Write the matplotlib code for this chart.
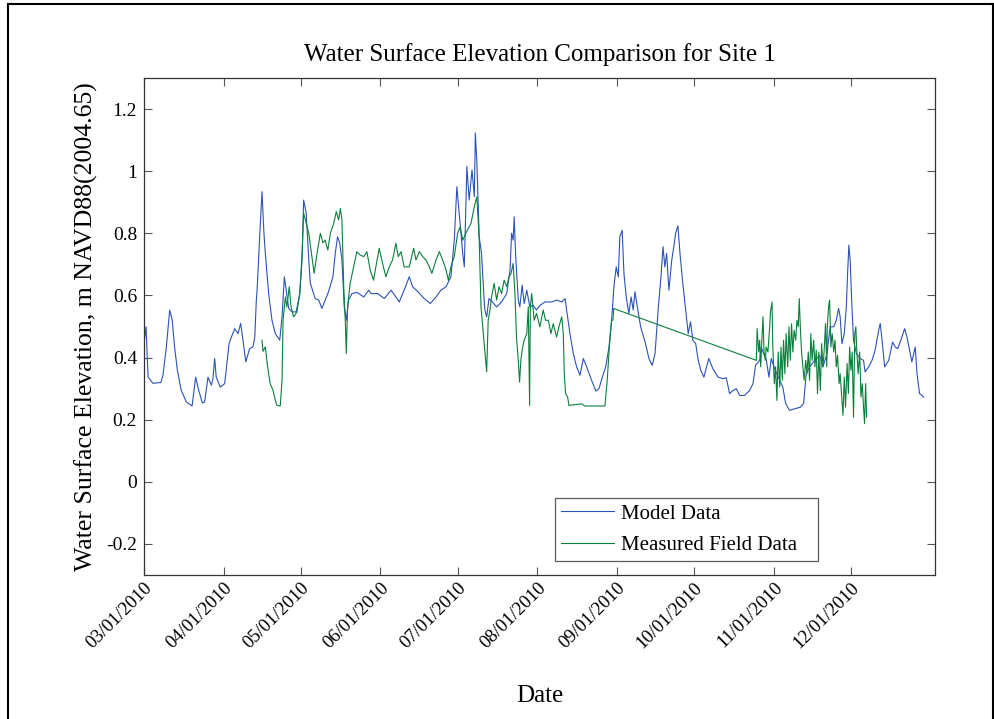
import numpy as np
import matplotlib
matplotlib.use("Agg")
import matplotlib.pyplot as plt
import matplotlib.dates as mdates
from datetime import datetime
from matplotlib.lines import Line2D

# Site 1 water surface elevation, m NAVD88(2004.65); time in days after 03/01/2010
model_days = [0, 0.8, 1.6, 3.5, 6.6, 7.4, 8.7, 10.0, 11.0, 11.9, 13.0, 14.5, 16.5, 18.7,
              20.1, 21.3, 22.7, 23.6, 24.9, 26.2, 26.8, 27.5, 28.1, 29.7, 31.4, 33.1, 34.0,
              35.3, 36.6, 37.6, 38.5, 39.6, 41.1, 42.4, 43.1, 43.7, 44.0, 45.0, 45.9, 46.6,
              47.2, 48.5, 49.8, 51.1, 52.8, 53.7, 54.6, 55.3, 56.3, 57.6, 59.2, 60.6, 61.5,
              62.1, 63.1, 64.1, 64.7, 66.6, 68.0, 69.2, 70.5, 71.8, 73.5, 74.4, 75.3, 76.1,
              77.0, 77.9, 78.7, 79.6, 80.9, 82.8, 85.5, 87.4, 88.3, 90.9, 93.5, 96.1, 98.0,
              99.3, 101.2, 103.2, 104.5, 106.5, 109.0, 111.4, 113.6, 115.5, 117.5, 119.4,
              120.7, 121.7, 122.6, 124.0, 124.6, 125.6, 126.5, 127.6, 128.5, 128.9, 129.5,
              130.4, 131.3, 132.4, 132.6, 133.3, 134.2, 135.5, 137.2, 139.1, 141.1, 142.4,
              143.0, 143.6, 144.0, 144.6, 145.6, 146.2, 147.1, 147.9, 148.9, 150.1, 151.4,
              152.7, 154.0, 156.0, 158.6, 160.5, 162.5, 163.8, 164.4, 165.7, 167.0, 168.3,
              169.6, 170.9, 172.2, 174.1, 175.8, 177.0, 178.3, 179.6, 180.9, 181.9, 182.8,
              183.7, 184.5, 185.1, 186.0, 186.7, 187.6, 188.6, 189.5, 190.3, 191.0, 191.9,
              193.2, 195.1, 196.4, 197.7, 198.8, 200.0, 201.1, 201.9, 202.6, 203.3, 204.2,
              205.3, 206.1, 206.8, 207.7, 208.5, 209.6, 210.7, 211.7, 212.6, 213.5, 214.6,
              215.6, 216.6, 217.8, 219.7, 221.3, 223.3, 225.2, 226.5, 227.8, 229.1, 230.4,
              231.7, 233.6, 235.6, 236.9, 237.9, 239.5, 240.1, 241.0, 242.0, 243.1, 244.0,
              245.3, 247.3, 248.5, 249.6, 251.1, 253.1, 255.3, 256.6, 257.6, 258.9, 260.9,
              262.8, 264.1, 265.7, 266.9, 268.3, 269.3, 270.2, 270.8, 271.5, 272.4, 273.2,
              273.7, 274.2, 274.7, 275.4, 276.0, 277.1, 278.6, 279.9, 280.5, 281.9, 283.2,
              284.4, 285.8, 286.4, 287.1, 288.1, 289.7, 291.2, 292.2, 293.2, 294.4, 295.9,
              296.8, 297.8, 298.7, 300.0, 300.7, 301.7, 303.3]
model_elev = [0.446, 0.499, 0.337, 0.317, 0.32, 0.343, 0.434, 0.553, 0.52, 0.434, 0.359,
              0.294, 0.257, 0.244, 0.337, 0.294, 0.254, 0.257, 0.337, 0.311, 0.33, 0.397,
              0.337, 0.305, 0.316, 0.445, 0.466, 0.493, 0.477, 0.51, 0.456, 0.386, 0.429,
              0.434, 0.466, 0.585, 0.617, 0.789, 0.934, 0.81, 0.735, 0.606, 0.52, 0.477,
              0.456, 0.531, 0.66, 0.617, 0.558, 0.547, 0.547, 0.606, 0.714, 0.907, 0.865,
              0.714, 0.639, 0.59, 0.585, 0.558, 0.585, 0.612, 0.66, 0.735, 0.789, 0.77,
              0.714, 0.563, 0.52, 0.585, 0.606, 0.61, 0.595, 0.617, 0.606, 0.606, 0.59,
              0.617, 0.595, 0.579, 0.617, 0.66, 0.628, 0.612, 0.59, 0.574, 0.595, 0.617,
              0.628, 0.66, 0.778, 0.95, 0.865, 0.735, 0.692, 1.015, 0.907, 1.004, 0.918,
              1.123, 1.026, 0.789, 0.735, 0.574, 0.553, 0.531, 0.59, 0.579, 0.563, 0.579,
              0.606, 0.682, 0.8, 0.778, 0.853, 0.725, 0.585, 0.563, 0.633, 0.574, 0.617,
              0.563, 0.568, 0.553, 0.568, 0.579, 0.579, 0.585, 0.579, 0.59, 0.553, 0.477,
              0.413, 0.37, 0.343, 0.397, 0.37, 0.327, 0.292, 0.3, 0.337, 0.37, 0.434, 0.52,
              0.628, 0.692, 0.66, 0.789, 0.81, 0.671, 0.595, 0.542, 0.595, 0.553, 0.612,
              0.563, 0.499, 0.445, 0.397, 0.375, 0.413, 0.553, 0.66, 0.757, 0.692, 0.735,
              0.617, 0.714, 0.757, 0.8, 0.824, 0.735, 0.639, 0.553, 0.477, 0.515, 0.456,
              0.445, 0.391, 0.359, 0.337, 0.397, 0.364, 0.337, 0.332, 0.335, 0.284, 0.294,
              0.3, 0.278, 0.278, 0.294, 0.316, 0.375, 0.391, 0.434, 0.413, 0.397, 0.337,
              0.397, 0.364, 0.327, 0.305, 0.252, 0.23, 0.235, 0.24, 0.252, 0.348, 0.37,
              0.391, 0.407, 0.37, 0.413, 0.499, 0.499, 0.52, 0.558, 0.531, 0.445, 0.477,
              0.563, 0.671, 0.762, 0.714, 0.563, 0.456, 0.413, 0.397, 0.391, 0.354, 0.37,
              0.391, 0.424, 0.488, 0.51, 0.456, 0.37, 0.391, 0.45, 0.434, 0.429, 0.456,
              0.493, 0.466, 0.424, 0.386, 0.434, 0.348, 0.284, 0.273]

field_days = [45.9, 46.3, 47.2, 48.1, 49.1, 50.2, 51.1, 51.7, 53.0, 53.7, 54.1, 55.0, 55.6,
              56.5, 57.2, 58.2, 59.5, 60.6, 61.5, 62.1, 63.1, 64.1, 65.3, 66.2, 67.3, 68.6,
              69.6, 70.5, 71.5, 72.5, 73.8, 74.8, 75.7, 76.4, 77.0, 77.7, 78.3, 78.7, 79.2,
              80.2, 82.8, 84.1, 85.5, 86.7, 88.0, 89.3, 90.2, 91.5, 92.8, 94.1, 95.4, 96.7,
              98.0, 98.9, 100.0, 101.2, 103.2, 104.9, 105.8, 107.1, 108.4, 109.7, 111.0,
              112.0, 113.6, 114.9, 116.2, 117.5, 118.4, 119.4, 120.7, 122.0, 123.0, 124.0,
              125.2, 127.2, 128.5, 129.5, 130.4, 131.1, 132.1, 132.6, 133.3, 133.9, 134.6,
              135.2, 136.2, 137.2, 138.1, 139.1, 140.1, 141.1, 142.0, 142.8, 143.6, 144.3,
              144.9, 145.6, 146.1, 146.6, 147.1, 147.9, 148.9, 149.5, 150.0, 150.3, 150.8,
              151.8, 152.7, 154.0, 155.3, 156.2, 157.3, 158.3, 159.2, 160.5, 161.4, 162.5,
              163.1, 163.5, 164.0, 164.8, 165.3, 170.3, 171.5, 179.3, 180.2, 181.1, 181.9,
              182.4, 182.7, 238.2, 238.5, 239.1, 239.5, 239.9, 240.4, 240.8, 241.2, 241.7,
              242.0, 242.7, 243.4, 243.7, 244.3, 244.6, 245.2, 245.7, 246.2, 246.7, 247.3,
              247.8, 248.3, 248.8, 249.3, 249.8, 250.4, 250.9, 251.4, 251.9, 252.4, 252.9,
              253.5, 254.0, 254.5, 254.9, 255.3, 255.8, 256.3, 256.8, 257.4, 257.9, 258.4,
              258.9, 259.4, 259.9, 260.5, 261.0, 261.5, 262.0, 262.5, 263.1, 263.6, 264.1,
              264.6, 265.1, 265.6, 265.8, 266.3, 266.7, 267.2, 267.7, 268.3, 268.8, 269.3,
              269.8, 270.4, 270.8, 271.4, 271.9, 272.4, 272.9, 273.5, 274.0, 274.5, 275.0,
              275.5, 276.0, 276.5, 276.9, 277.3, 277.8, 278.4, 278.9, 279.4, 279.9, 280.3,
              280.7, 281.1]
field_elev = [0.456, 0.42, 0.434, 0.37, 0.316, 0.294, 0.262, 0.246, 0.244, 0.327, 0.52,
              0.595, 0.563, 0.628, 0.563, 0.531, 0.547, 0.606, 0.735, 0.865, 0.832, 0.8,
              0.725, 0.671, 0.735, 0.8, 0.77, 0.778, 0.746, 0.8, 0.832, 0.87, 0.843, 0.88,
              0.843, 0.628, 0.52, 0.413, 0.563, 0.639, 0.741, 0.73, 0.725, 0.741, 0.682,
              0.649, 0.692, 0.752, 0.703, 0.66, 0.692, 0.714, 0.768, 0.725, 0.741, 0.692,
              0.692, 0.752, 0.714, 0.741, 0.725, 0.714, 0.692, 0.671, 0.714, 0.741, 0.714,
              0.682, 0.649, 0.692, 0.725, 0.8, 0.821, 0.778, 0.8, 0.832, 0.886, 0.918,
              0.778, 0.563, 0.467, 0.42, 0.354, 0.52, 0.553, 0.595, 0.639, 0.585, 0.628,
              0.606, 0.649, 0.628, 0.66, 0.671, 0.703, 0.606, 0.466, 0.391, 0.321, 0.391,
              0.424, 0.456, 0.477, 0.563, 0.246, 0.563, 0.606, 0.52, 0.542, 0.499, 0.553,
              0.52, 0.52, 0.477, 0.509, 0.466, 0.499, 0.531, 0.477, 0.348, 0.284, 0.273,
              0.246, 0.251, 0.244, 0.244, 0.327, 0.445, 0.52, 0.52, 0.558, 0.391, 0.493,
              0.418, 0.456, 0.37, 0.466, 0.531, 0.418, 0.391, 0.434, 0.418, 0.499, 0.547,
              0.579, 0.434, 0.316, 0.37, 0.262, 0.418, 0.305, 0.434, 0.327, 0.456, 0.348,
              0.477, 0.37, 0.499, 0.391, 0.509, 0.418, 0.488, 0.456, 0.52, 0.499, 0.59,
              0.499, 0.418, 0.37, 0.327, 0.391, 0.348, 0.418, 0.327, 0.477, 0.391, 0.456,
              0.37, 0.424, 0.284, 0.418, 0.294, 0.445, 0.37, 0.424, 0.509, 0.37, 0.499,
              0.563, 0.585, 0.434, 0.477, 0.418, 0.456, 0.37, 0.407, 0.316, 0.348, 0.273,
              0.214, 0.337, 0.24, 0.381, 0.284, 0.434, 0.359, 0.418, 0.208, 0.477, 0.499,
              0.418, 0.348, 0.418, 0.273, 0.316, 0.24, 0.187, 0.316, 0.208]

month_ticks = [datetime(2010, m, 1) for m in range(3, 13)]
start = mdates.date2num(datetime(2010, 3, 1))

plt.rcParams['font.family'] = ['Liberation Serif', 'DejaVu Serif']

fig = plt.figure(figsize=(9.95, 7.19), dpi=100)
ax = fig.add_axes([0.1447, 0.2003, 0.795, 0.6912])

ax.plot(start + np.array(model_days), model_elev, color='#2b52b6', lw=0.8, label='Model Data')
ax.plot(start + np.array(field_days), field_elev, color='#0b7f3c', lw=0.8,
        label='Measured Field Data')

ax.set_xlim(start, start + 307.7)
ax.set_ylim(-0.3, 1.3)
ax.set_yticks([-0.2, 0, 0.2, 0.4, 0.6, 0.8, 1.0, 1.2])
ax.set_yticklabels(['-0.2', '0', '0.2', '0.4', '0.6', '0.8', '1', '1.2'])
ax.set_xticks(mdates.date2num(month_ticks))
ax.xaxis.set_major_formatter(mdates.DateFormatter('%m/%d/%Y'))
ax.tick_params(direction='in', length=6, width=0.8, color='#555555', labelsize=14,
               top=True, right=True, pad=5)
ax.tick_params(axis='x', labelsize=13.5, pad=3)
for lab in ax.get_xticklabels():
    lab.set_rotation(45)
    lab.set_ha('right')
    lab.set_rotation_mode('anchor')
for sp in ax.spines.values():
    sp.set_color('#333333')
    sp.set_linewidth(0.9)

ax.set_title('Water Surface Elevation Comparison for Site 1', fontsize=18, pad=12)
ax.set_ylabel('Water Surface Elevation, m NAVD88(2004.65)', fontsize=18.5, labelpad=6)
ax.set_xlabel('Date', fontsize=18, labelpad=24)

# legend box stretched to a fixed width, entries left-aligned
leg = ax.legend(loc='lower left', bbox_to_anchor=(0.5196, 0.028, 0.3325, 0.13),
                mode='expand', fontsize=15, frameon=True, fancybox=False,
                handlelength=2.55, borderaxespad=0, borderpad=0.3,
                labelspacing=0.55, handletextpad=0.3)
leg.get_frame().set_edgecolor('#333333')
leg.get_frame().set_linewidth(0.9)

# outer frame around the figure
for xs, ys in [([0.008, 0.008], [0, 0.994]), ([0.008, 0.998], [0.994, 0.994]),
               ([0.998, 0.998], [0, 0.994])]:
    fig.add_artist(Line2D(xs, ys, transform=fig.transFigure, color='black', lw=1.5))

fig.savefig('out.png', dpi=100)
